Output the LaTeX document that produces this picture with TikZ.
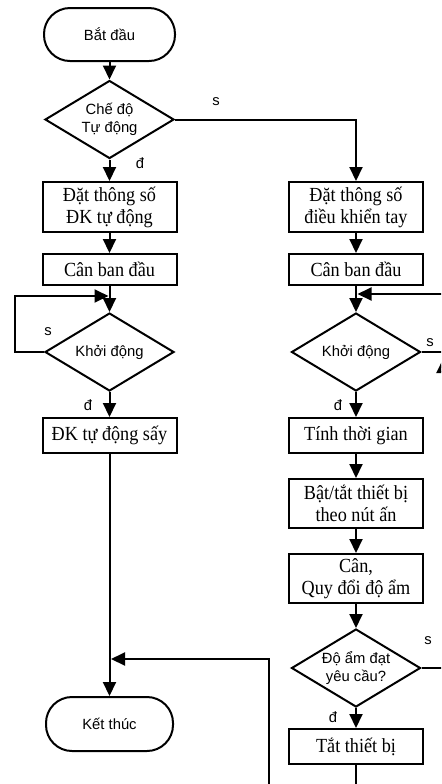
\documentclass[tikz,border=0pt]{standalone}
\usepackage{fontspec}
\setmainfont{Liberation Serif}[FakeStretch=0.91]
\setsansfont{Liberation Sans}
\usetikzlibrary{arrows.meta,positioning,shapes.geometric}

\begin{document}
\begin{tikzpicture}[x=0.5pt,y=-0.5pt,line width=1pt,
                    >={Triangle[length=7pt,width=6.5pt]},
                    terminal/.style={draw, rounded corners=13pt, inner sep=0pt,
                      font=\sffamily\fontsize{7.4}{9}\selectfont,
                      minimum width=65.5pt, minimum height=26.5pt},
                    decision/.style={draw, diamond, aspect=1.67, inner sep=0pt, align=center,
                      font=\sffamily\fontsize{7.4}{9}\selectfont,
                      minimum width=64.5pt, minimum height=39pt},
                    process/.style={draw, align=center, inner sep=0pt,
                      font=\fontsize{10}{11}\selectfont, minimum width=67pt},
                    lbl/.style={font=\sffamily\fontsize{7.4}{9}\selectfont, inner sep=0pt}]
  \useasboundingbox (0,0) rectangle (441,784);
  \clip (0,0) rectangle (441,784);
  % left column
  \node[terminal] (B) at (109.5,34.5) {Bắt đầu};
  \node[decision] (CD) at (109.5,119.5) {Chế độ\\Tự động};
  \node[process, minimum height=25pt]   (T1) at (109.5,207)   {Đặt thông số\\ĐK tự động};
  \node[process, minimum height=15.5pt] (C1) at (109.5,269.5) {Cân ban đầu};
  \node[decision] (K1) at (109.5,352) {Khởi động};
  \node[process, minimum height=17.5pt] (DK) at (109.5,435.5) {ĐK tự động sấy};
  \node[terminal, minimum width=63.5pt, minimum height=27pt] (KT) at (109.5,724) {Kết thúc};
  % right column
  \node[process, minimum height=25pt]   (T2) at (356,207)   {Đặt thông số\\điều khiển tay};
  \node[process, minimum height=15.5pt] (C2) at (356,269.5) {Cân ban đầu};
  \node[decision] (K2) at (356,352) {Khởi động};
  \node[process, minimum height=17.5pt] (TG) at (356,435.5) {Tính thời gian};
  \node[process, minimum height=24.5pt] (BT) at (356,503.5) {Bật/tắt thiết bị\\theo nút ấn};
  \node[process, minimum height=24.5pt] (CQ) at (356,578.5) {Cân,\\Quy đổi độ ẩm};
  \node[decision] (DA) at (356,668) {Độ ẩm đạt\\yêu cầu?};
  \node[process, minimum height=17.5pt] (TT) at (356,746.5) {Tắt thiết bị};
  % branch labels
  \node[lbl] (s1) at (216,102) {s};
  \node[lbl] (d1) at (140,163) {đ};
  \node[lbl] (s2) at (48,332)  {s};
  \node[lbl] (d2) at (88,405)  {đ};
  \node[lbl] (s3) at (430,343) {s};
  \node[lbl] (d3) at (338,405) {đ};
  \node[lbl] (s4) at (428,641) {s};
  \node[lbl] (d4) at (333,717) {đ};
  % loop points
  \coordinate (LL) at (15,296);
  \coordinate (L1) at (108.5,296);
  \coordinate (RT) at (443,294);
  \coordinate (RM) at (443,359);
  \coordinate (R1) at (357.5,294);
  \coordinate (BL) at (111,659);
  \coordinate (BO) at (269,800);
  \coordinate (TO) at (356,800);
  \path[->]
    (B)  edge (CD)
    (CD) edge (T1)
    (T1) edge (C1)
    (C1) edge (K1)
    (K1) edge (DK)
    (DK) edge (KT)
    (T2) edge (C2)
    (C2) edge (K2)
    (K2) edge (TG)
    (TG) edge (BT)
    (BT) edge (CQ)
    (CQ) edge (DA)
    (DA) edge (TT);
  \draw[->] (CD.east) -| (T2.north);
  \draw[->] (K1.west) -| (LL) -- (L1);
  \draw (K2.east) -- (K2.east -| RT);
  \draw[->] (DA.east) -| (RM);
  \draw[->] (RM) -- (RT) -- (R1);
  \draw (TT) -- (TO);
  \draw[->] (BO) |- (BL);
\end{tikzpicture}
\end{document}
